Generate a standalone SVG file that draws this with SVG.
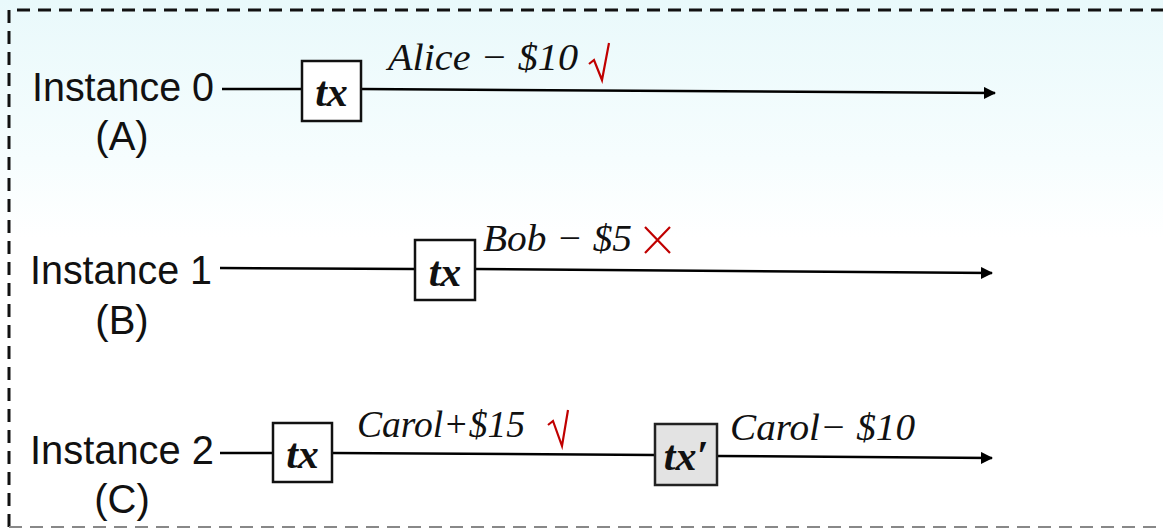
<svg xmlns="http://www.w3.org/2000/svg" width="1163" height="529" viewBox="0 0 1163 529">
  <defs>
    <linearGradient id="bg" x1="0" y1="0" x2="0" y2="1">
      <stop offset="0" stop-color="#e9f9fb"/>
      <stop offset="0.3" stop-color="#f6fdfe"/>
      <stop offset="0.45" stop-color="#ffffff"/>
      <stop offset="1" stop-color="#ffffff"/>
    </linearGradient>
    <marker id="arrow" viewBox="0 0 12 12" refX="11" refY="6" markerWidth="12" markerHeight="12" markerUnits="userSpaceOnUse" orient="auto">
      <path d="M0,0 L12,6 L0,12 Z" fill="#000"/>
    </marker>
    <style>
      .inst { font-family: "Liberation Sans", Arial, sans-serif; font-size: 40px; fill: #111; }
      .lbl { font-family: "Liberation Serif", "DejaVu Serif", serif; font-style: italic; font-size: 38px; fill: #111; }
      .tx { font-family: "Liberation Serif", "DejaVu Serif", serif; font-style: italic; font-weight: bold; font-size: 42px; fill: #111; text-anchor: middle; }
      .box { fill: #ffffff; stroke: #111; stroke-width: 2.5; }
      .box2 { fill: #e3e3e3; stroke: #222; stroke-width: 2.5; }
      .wire { stroke: #000; stroke-width: 2.5; fill: none; }
      .mark { stroke: #c00000; stroke-width: 2.2; fill: none; stroke-linejoin: miter; }
    </style>
  </defs>

  <!-- background and dashed frame -->
  <rect x="0" y="0" width="1163" height="529" fill="url(#bg)"/>
  <path d="M9,527 L9,10 L1163,10" fill="none" stroke="#111" stroke-width="3" stroke-dasharray="13,8"/>
  <path d="M9,527 L1163,527" fill="none" stroke="#888" stroke-width="2" stroke-dasharray="13,8"/>

  <!-- timelines -->
  <g id="connectors">
    <path class="wire" d="M222,89 L302,89"/>
    <path class="wire" d="M361,89 L995,93" marker-end="url(#arrow)"/>
    <path class="wire" d="M220,268 L415,269"/>
    <path class="wire" d="M475,269 L992,273" marker-end="url(#arrow)"/>
    <path class="wire" d="M220,453 L273,453"/>
    <path class="wire" d="M332,453 L655,455"/>
    <path class="wire" d="M717,456 L992,458" marker-end="url(#arrow)"/>
  </g>

  <!-- instance 0 -->
  <g id="instance0">
    <text class="inst" x="32" y="101" textLength="182" lengthAdjust="spacingAndGlyphs">Instance 0</text>
    <text class="inst" x="122" y="150" text-anchor="middle">(A)</text>
  </g>
  <g id="tx0">
    <rect class="box" x="302" y="61" width="59" height="60"/>
    <text class="tx" x="331.5" y="106">tx</text>
  </g>
  <g id="label0">
    <text class="lbl" x="388" y="70" textLength="190" lengthAdjust="spacingAndGlyphs">Alice − $10</text>
    <path class="mark" d="M589,64 L594,60 L602,80 L609,43"/>
  </g>

  <!-- instance 1 -->
  <g id="instance1">
    <text class="inst" x="30" y="284" textLength="182" lengthAdjust="spacingAndGlyphs">Instance 1</text>
    <text class="inst" x="122" y="334" text-anchor="middle">(B)</text>
  </g>
  <g id="tx1">
    <rect class="box" x="415" y="240" width="60" height="60"/>
    <text class="tx" x="445" y="286">tx</text>
  </g>
  <g id="label1">
    <text class="lbl" x="483" y="251" textLength="149" lengthAdjust="spacingAndGlyphs">Bob − $5</text>
    <path class="mark" d="M645,227 L670,253 M670,227 L645,253"/>
  </g>

  <!-- instance 2 -->
  <g id="instance2">
    <text class="inst" x="30" y="464" textLength="184" lengthAdjust="spacingAndGlyphs">Instance 2</text>
    <text class="inst" x="122" y="513" text-anchor="middle">(C)</text>
  </g>
  <g id="tx2">
    <rect class="box" x="273" y="423" width="59" height="59"/>
    <text class="tx" x="302.5" y="468">tx</text>
  </g>
  <g id="label2">
    <text class="lbl" x="357" y="437" textLength="168" lengthAdjust="spacingAndGlyphs">Carol+$15</text>
    <path class="mark" d="M548,425 L553,421 L562,446 L568,410"/>
  </g>
  <g id="tx3">
    <rect class="box2" x="655" y="424" width="62" height="61"/>
    <text class="tx" x="686" y="470">tx′</text>
  </g>
  <g id="label3">
    <text class="lbl" x="730" y="440" textLength="185" lengthAdjust="spacingAndGlyphs">Carol− $10</text>
  </g>
</svg>
